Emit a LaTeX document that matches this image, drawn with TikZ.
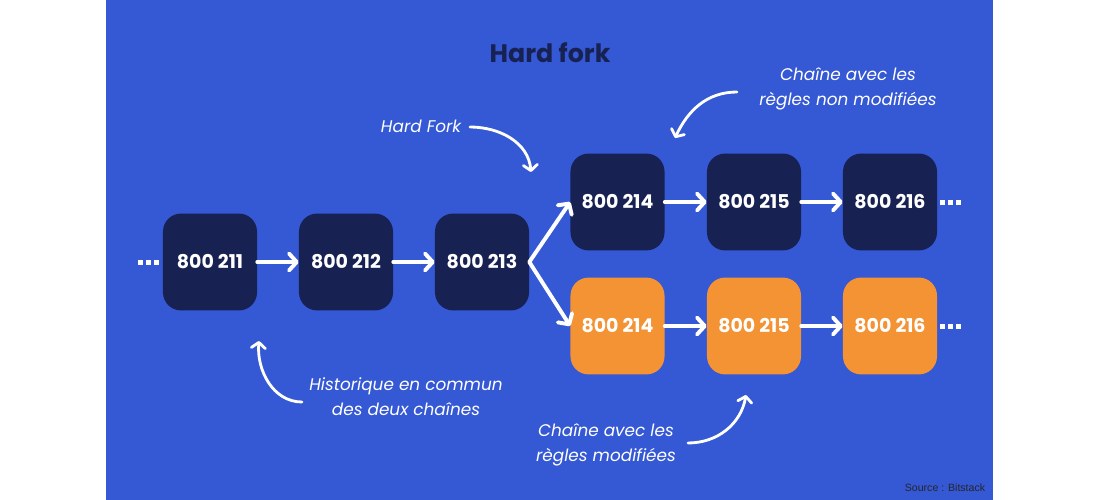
\documentclass[tikz,border=0pt]{standalone}
\usepackage{fontspec}
\setmainfont{Poppins}
\newfontfamily\srcfont{Liberation Sans}
\usetikzlibrary{arrows.meta}
\definecolor{bluebg}{HTML}{3558D4}
\definecolor{navy}{HTML}{172152}
\definecolor{orng}{HTML}{F39334}
\tikzset{
  block/.style={rounded corners=0.45cm, minimum width=2.35cm, minimum height=2.42cm,
    inner sep=0pt, text=white, font=\fontsize{13.5}{15}\selectfont\bfseries},
  link/.style={white, line width=2.8pt, line cap=round,
    -{Straight Barb[length=5.5pt,width=12pt,line cap=round,line join=round]}},
  curl/.style={white, line width=2pt, line cap=round,
    -{Straight Barb[length=4pt,width=10pt,line cap=round,line join=round]}},
  note/.style={text=white, align=center, font=\fontsize{12}{17.8}\selectfont\itshape}
}
\begin{document}
\begin{tikzpicture}[x=0.025cm,y=-0.025cm]
  \def\hy{262}   % shared history row
  \def\ty{202}   % unchanged rules row
  \def\oy{326}   % changed rules row
  \useasboundingbox (0,0) rectangle (1100,500);
  \fill[bluebg] (106,0) rectangle (993,500);
  \node[text=navy, font=\fontsize{18}{20}\selectfont\bfseries] (title) at (550,53) {Hard fork};
  % blocks
  \foreach \i/\x in {211/210,212/346,213/482} { \node[block,fill=navy] (b\i) at (\x,\hy) {800 \i}; }
  \foreach \i/\x in {214/617.5,215/754,216/890} {
    \node[block,fill=orng] (o\i) at (\x,\oy) {800 \i};
    \node[block,fill=navy] (t\i) at (\x,\ty) {800 \i};
  }
  % dots
  \foreach \x in {140,148,156} { \fill[white] (\x-2,\hy-2) rectangle +(4.5,4.5); }
  \foreach \x in {942,950,958} { \fill[white] (\x-2,\ty-2) rectangle +(4.5,4.5); }
  \foreach \x in {942,950,958} { \fill[white] (\x-2,\oy-2) rectangle +(4.5,4.5); }
  % chain links
  \foreach \a/\b in {b211/b212,b212/b213,t214/t215,t215/t216,o214/o215,o215/o216} { \draw[link] (\a) -- (\b); }
  \draw[link] (b213.east) -- (t214.west);
  \draw[link] (b213.east) -- (o214.west);
  % notes
  \node[note] (nfork) at (421,126) {Hard Fork};
  \node[note] (nold) at (848,89) {Chaîne avec les\\règles non modifiées};
  \node[note] (nhist) at (406,397) {Historique en commun\\des deux chaînes};
  \node[note] (nnew) at (606,445) {Chaîne avec les\\règles modifiées};
  \coordinate (cfork) at (531,172);
  \coordinate (cold) at (675,138);
  \coordinate (chist) at (259,341);
  \coordinate (cnew) at (746,395);
  \draw[curl] (nfork.east)++(4,1) to[out=0,in=95] (cfork);
  \draw[curl] (737,92) to[out=180,in=65] (cold);
  \draw[curl] (302,402) to[out=180,in=-95] (chist);
  \draw[curl] (688,443) to[out=0,in=-100] (cnew);
  \node[font=\srcfont\fontsize{7.5}{8}\selectfont, text=black!85] (src) at (945,488) {Source : Bitstack};
\end{tikzpicture}
\end{document}
